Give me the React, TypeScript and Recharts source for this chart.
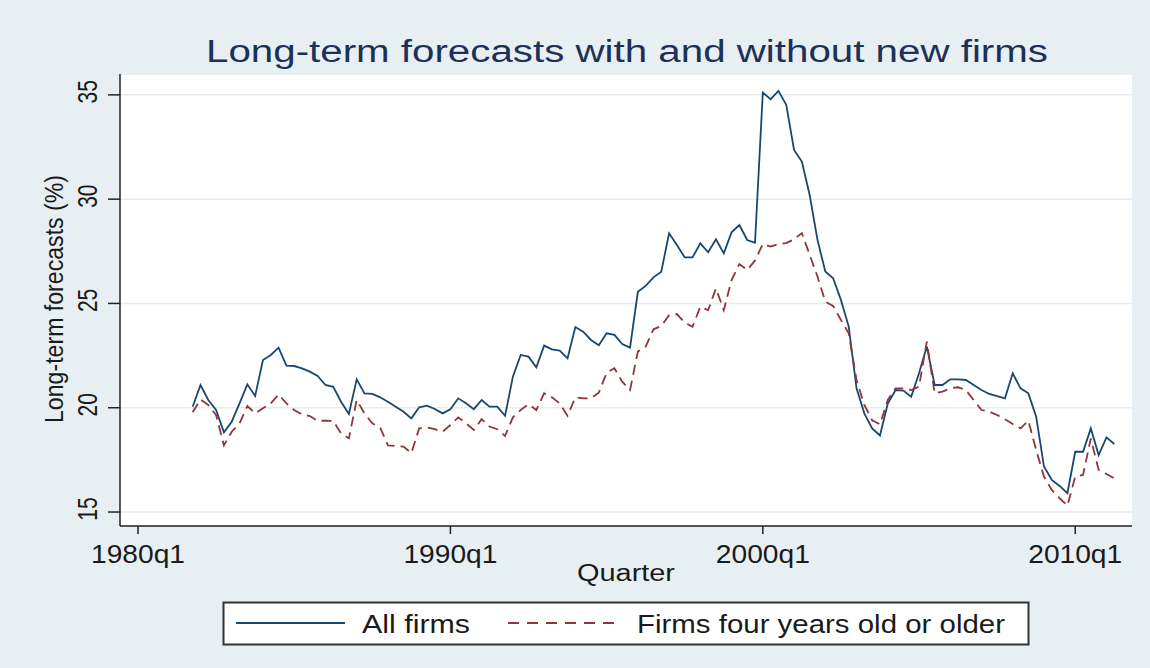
import { LineChart, Line, XAxis, YAxis, CartesianGrid } from "recharts";

// quarter index counted from 1980q1 (0 = 1980q1); series starts at 1981q4
const FIRST_QUARTER = 7;

const allFirms = [
  20.05, 21.09, 20.37, 19.89, 18.82, 19.33, 20.21, 21.12, 20.56, 22.29,
  22.53, 22.88, 22.02, 22.0, 21.89, 21.73, 21.52, 21.09, 21.0, 20.29,
  19.7, 21.36, 20.69, 20.66, 20.5, 20.29, 20.05, 19.81, 19.49, 20.02,
  20.1, 19.94, 19.73, 19.93, 20.45, 20.21, 19.93, 20.37, 20.05, 20.05,
  19.61, 21.49, 22.53, 22.45, 21.94, 22.98, 22.8, 22.74, 22.37, 23.87,
  23.65, 23.25, 23.0, 23.57, 23.49, 23.05, 22.88, 25.56, 25.84, 26.25,
  26.52, 28.36, 27.8, 27.21, 27.21, 27.88, 27.45, 28.07, 27.4, 28.41,
  28.76, 28.04, 27.91, 35.11, 34.79, 35.19, 34.52, 32.36, 31.8, 30.2,
  28.05, 26.53, 26.21, 25.17, 23.89, 20.93, 19.73, 19.01, 18.67, 20.2,
  20.85, 20.82, 20.53, 21.65, 22.93, 21.09, 21.09, 21.36, 21.36, 21.33,
  21.09, 20.85, 20.66, 20.56, 20.45, 21.65, 20.93, 20.69, 19.57, 17.18,
  16.54, 16.25, 15.9, 17.89, 17.89, 19.01, 17.73, 18.58, 18.26,
];

const olderFirms = [
  19.78, 20.4, 20.13, 19.65, 18.2, 18.85, 19.25, 20.08, 19.73, 19.97,
  20.21, 20.64, 20.21, 19.89, 19.68, 19.6, 19.37, 19.38, 19.37, 18.77,
  18.53, 20.37, 19.73, 19.25, 19.05, 18.2, 18.17, 18.14, 17.82, 19.01,
  19.06, 18.97, 18.85, 19.17, 19.54, 19.25, 18.93, 19.45, 19.1, 18.97,
  18.65, 19.54, 19.89, 20.17, 19.89, 20.69, 20.5, 20.21, 19.61, 20.5,
  20.45, 20.45, 20.72, 21.68, 21.89, 21.25, 20.85, 22.69, 22.93, 23.76,
  23.92, 24.44, 24.49, 24.08, 23.88, 24.84, 24.68, 25.72, 24.68, 26.12,
  26.89, 26.6, 27.05, 27.85, 27.73, 27.85, 27.89, 28.08, 28.37, 27.33,
  26.29, 25.09, 24.88, 24.21, 23.57, 21.33, 20.13, 19.4, 19.2, 20.37,
  20.93, 20.93, 20.85, 21.01, 23.17, 20.69, 20.77, 20.93, 20.98, 20.85,
  20.37, 19.89, 19.81, 19.65, 19.45, 19.22, 19.01, 19.38, 17.97, 16.7,
  16.06, 15.66, 15.3, 16.7, 16.78, 18.53, 17.02, 16.82, 16.62,
];

const xTicks = [0, 40, 80, 120];
const xTickLabels = ["1980q1", "1990q1", "2000q1", "2010q1"];
const yTicks = [15, 20, 25, 30, 35];

const data = allFirms.map((v, i) => ({
  q: FIRST_QUARTER + i,
  all: v,
  older: olderFirms[i],
}));

const FONT = "'Liberation Sans', Arial, sans-serif";
const BLUE = "#1a476f";
const RED = "#90353b";
const INK = "#1a1a1a";

const XTick = ({ x, y, payload }: any) => {
  const idx = xTicks.indexOf(payload.value);
  return (
    <text
      x={x}
      y={y + 27}
      textAnchor="middle"
      fontSize={25}
      fontFamily={FONT}
      fill={INK}
      textLength={94}
      lengthAdjust="spacingAndGlyphs"
    >
      {xTickLabels[idx]}
    </text>
  );
};

const YTick = ({ y, payload }: any) => (
  <text
    transform={`translate(97, ${y - 3}) rotate(-90) scale(1, 1.3)`}
    textAnchor="middle"
    fontSize={21}
    fontFamily={FONT}
    fill={INK}
  >
    {payload.value}
  </text>
);

export default function App() {
  return (
    <div
      style={{
        position: "absolute",
        left: 0,
        top: 0,
        width: 1150,
        height: 668,
        background: "#e8eff2",
      }}
    >
      <LineChart
        width={1150}
        height={668}
        data={data}
        margin={{ top: 74, right: 18, bottom: 102, left: 60 }}
      >
        <CartesianGrid
          vertical={false}
          stroke="#e3ecef"
          strokeWidth={1.5}
          fill="#ffffff"
        />
        <XAxis
          type="number"
          dataKey="q"
          domain={[-2.305, 127.27]}
          ticks={xTicks}
          allowDataOverflow
          height={40}
          tickSize={8}
          axisLine={{ stroke: "#222", strokeWidth: 1.5 }}
          tickLine={{ stroke: "#222", strokeWidth: 1.5 }}
          tick={<XTick />}
        />
        <YAxis
          type="number"
          domain={[14.33, 36.0]}
          ticks={yTicks}
          allowDataOverflow
          width={60}
          tickSize={12}
          axisLine={{ stroke: "#222", strokeWidth: 1.5 }}
          tickLine={{ stroke: "#222", strokeWidth: 1.5 }}
          tick={<YTick />}
        />
        <Line
          type="linear"
          dataKey="all"
          stroke={BLUE}
          strokeWidth={1.8}
          dot={false}
          isAnimationActive={false}
        />
        <Line
          type="linear"
          dataKey="older"
          stroke={RED}
          strokeWidth={1.8}
          strokeDasharray="10 6"
          dot={false}
          isAnimationActive={false}
        />
      </LineChart>

      {/* title, axis titles and legend box */}
      <svg
        width={1150}
        height={668}
        style={{ position: "absolute", left: 0, top: 0, pointerEvents: "none" }}
        fontFamily={FONT}
      >
        <text
          x={206}
          y={62}
          fontSize={31}
          fill="#1c3158"
          textLength={842}
          lengthAdjust="spacingAndGlyphs"
        >
          Long-term forecasts with and without new firms
        </text>
        <text
          transform="translate(63, 299) rotate(-90) scale(1, 1.2)"
          textAnchor="middle"
          fontSize={21}
          fill={INK}
          textLength={248}
          lengthAdjust="spacingAndGlyphs"
        >
          Long-term forecasts (%)
        </text>
        <text
          x={626}
          y={581}
          textAnchor="middle"
          fontSize={23}
          fill={INK}
          textLength={98}
          lengthAdjust="spacingAndGlyphs"
        >
          Quarter
        </text>

        <rect x={223.5} y={602.5} width={805} height={42} fill="#fff" stroke="#333" strokeWidth={2} />
        <line x1={236} y1={623} x2={345} y2={623} stroke={BLUE} strokeWidth={2} />
        <text x={362} y={633} fontSize={25} fill={INK} textLength={108} lengthAdjust="spacingAndGlyphs">
          All firms
        </text>
        <line x1={508} y1={623} x2={620} y2={623} stroke={RED} strokeWidth={2} strokeDasharray="11 8" />
        <text x={637} y={633} fontSize={25} fill={INK} textLength={368} lengthAdjust="spacingAndGlyphs">
          Firms four years old or older
        </text>
      </svg>
    </div>
  );
}
